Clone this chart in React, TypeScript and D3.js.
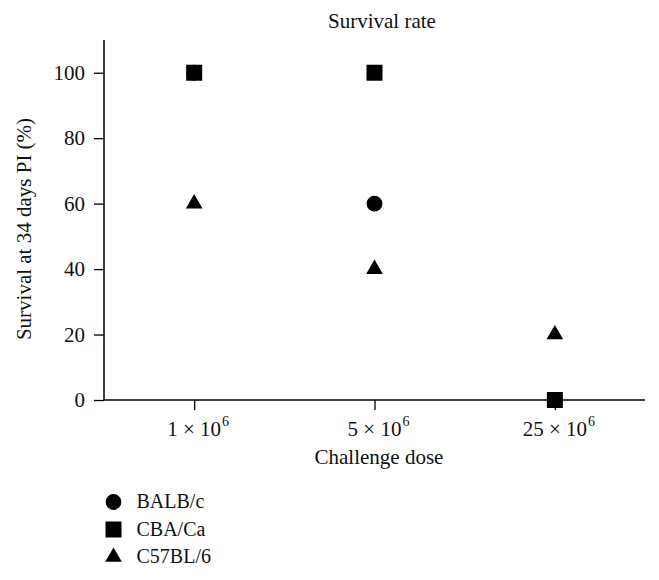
import React, { useEffect, useRef } from 'react';
import * as d3 from 'd3';

const doses = ['1e6', '5e6', '25e6'];
const doseBase = ['1 × 10', '5 × 10', '25 × 10'];
const doseExp = ['6', '6', '6'];
const yTicks = [0, 20, 40, 60, 80, 100];

const balbc = [100, 60, 0];
const cbaca = [100, 100, 0];
const c57bl6 = [60, 40, 20];

const seriesNames = ['BALB/c', 'CBA/Ca', 'C57BL/6'];

const FONT = '"Liberation Serif", "Times New Roman", serif';

const App = () => {
  const svgRef = useRef<SVGSVGElement>(null);

  useEffect(() => {
    const svg = d3.select(svgRef.current);
    svg.selectAll('*').remove();

    const margin = { left: 104, right: 14, top: 40, bottom: 180 };
    const width = 659 - margin.left - margin.right;
    const height = 580 - margin.top - margin.bottom;

    const g = svg
      .append('g')
      .attr('transform', `translate(${margin.left}, ${margin.top})`);

    const x = d3.scalePoint().domain(doses).range([0, width]).padding(0.5);
    const y = d3.scaleLinear().domain([0, 110]).range([height, 0]);

    // title
    svg
      .append('text')
      .attr('x', 382)
      .attr('y', 28)
      .attr('text-anchor', 'middle')
      .attr('font-family', FONT)
      .attr('font-size', '21px')
      .attr('fill', '#111')
      .text('Survival rate');

    // y axis
    const yAxis = g
      .append('g')
      .call(d3.axisLeft(y).tickValues(yTicks).tickSize(10).tickPadding(9));
    yAxis.select('.domain').attr('d', `M0,0V${height}`).attr('stroke-width', 1.5);
    yAxis.selectAll('.tick line').attr('stroke-width', 1.3);
    yAxis
      .selectAll('.tick text')
      .attr('font-family', FONT)
      .attr('font-size', '21px')
      .attr('fill', '#111');

    // x axis
    const xAxis = g
      .append('g')
      .attr('transform', `translate(0, ${height})`)
      .call(d3.axisBottom(x).tickSize(10).tickFormat(() => ''));
    xAxis.select('.domain').attr('d', `M0,0H${width}`).attr('stroke-width', 1.5);
    xAxis.selectAll('.tick line').attr('stroke-width', 1.3);
    xAxis.selectAll('.tick text').remove();

    doses.forEach((d, i) => {
      const cx = x(d) as number;
      const base = g
        .append('text')
        .attr('x', cx)
        .attr('y', height + 36)
        .attr('text-anchor', 'middle')
        .attr('font-family', FONT)
        .attr('font-size', '21px')
        .attr('fill', '#111')
        .text(doseBase[i]);
      const w = (base.node() as SVGTextElement).getComputedTextLength();
      g.append('text')
        .attr('x', cx + w / 2 + 1)
        .attr('y', height + 26)
        .attr('font-family', FONT)
        .attr('font-size', '14px')
        .attr('fill', '#111')
        .text(doseExp[i]);
    });

    // axis titles
    svg
      .append('text')
      .attr('x', 379)
      .attr('y', 464)
      .attr('text-anchor', 'middle')
      .attr('font-family', FONT)
      .attr('font-size', '21px')
      .attr('fill', '#111')
      .text('Challenge dose');

    svg
      .append('text')
      .attr('transform', 'translate(31, 229) rotate(-90)')
      .attr('text-anchor', 'middle')
      .attr('font-family', FONT)
      .attr('font-size', '21px')
      .attr('fill', '#111')
      .text('Survival at 34 days PI (%)');

    const circle = d3.symbol(d3.symbolCircle, 196);
    const square = d3.symbol(d3.symbolSquare, 256);
    const triangle = d3.symbol(d3.symbolTriangle, 120);

    const series = [
      { values: balbc, path: circle },
      { values: cbaca, path: square },
      { values: c57bl6, path: triangle },
    ];

    series.forEach((s) => {
      g.selectAll(null)
        .data(s.values)
        .enter()
        .append('path')
        .attr('d', s.path() as string)
        .attr('transform', (v, i) => `translate(${x(doses[i])}, ${y(v)})`)
        .attr('fill', '#000');
    });

    // legend
    const legend = svg.append('g').attr('transform', 'translate(113.5, 502)');
    series.forEach((s, i) => {
      const row = legend.append('g').attr('transform', `translate(0, ${i * 27.5})`);
      row.append('path').attr('d', s.path() as string).attr('fill', '#000');
      row
        .append('text')
        .attr('x', 23)
        .attr('y', 6)
        .attr('font-family', FONT)
        .attr('font-size', '20px')
        .attr('fill', '#111')
        .text(seriesNames[i]);
    });
  }, []);

  return (
    <div>
      <svg ref={svgRef} width={659} height={580} style={{ display: 'block', margin: '-8px' }}></svg>
    </div>
  );
};

export default App;
